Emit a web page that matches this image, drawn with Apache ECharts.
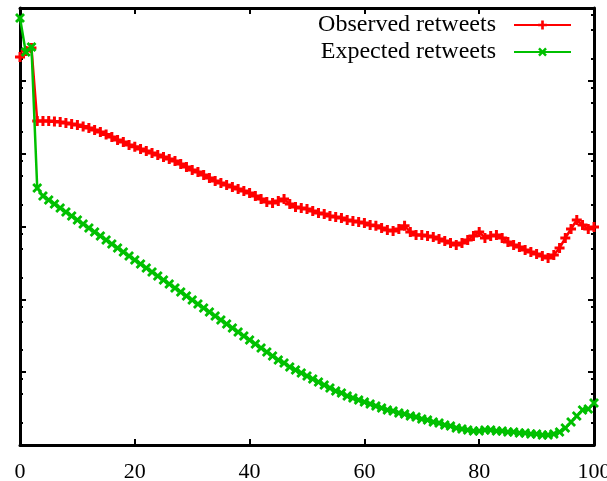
<!DOCTYPE html>
<html>
<head>
<meta charset="utf-8">
<script src="https://cdn.jsdelivr.net/npm/echarts@6/dist/echarts.min.js"></script>
<style>
  html, body { margin: 0; padding: 0; background: #ffffff; }
  #chart { width: 607px; height: 481px; }
</style>
</head>
<body>
<div id="chart"></div>
<script>
// Position in the timeline (0..100)
const positions = [];
for (let i = 0; i <= 100; i++) positions.push(i);

// Observed retweets at each position
const observed = [
  212000, 257000, 282000, 28100, 28100, 28100, 27700, 27200, 26400, 25600,
  24800, 23600, 22500, 21200, 19900, 18300, 16900, 15400, 14500, 13200,
  12400, 11600, 10900, 10200, 9590, 9000, 8450, 7930, 7220, 6560,
  5970, 5600, 5100, 4640, 4220, 3960, 3720, 3490, 3270, 3070,
  2880, 2620, 2390, 2170, 2100, 2240, 2390, 2040, 1850, 1790,
  1740, 1630, 1530, 1480, 1390, 1350, 1310, 1230, 1190, 1150,
  1120, 1050, 1020, 954, 896, 868, 925, 1020, 841, 764,
  764, 741, 718, 674, 633, 594, 557, 594, 653, 741,
  841, 695, 741, 764, 695, 613, 557, 523, 476, 447,
  420, 394, 370, 406, 507, 695, 925, 1230, 1050, 925,
  984
];

// Expected retweets at each position
const expected = [
  730000, 249000, 292000, 3380, 2620, 2310, 2040, 1790, 1580, 1390,
  1230, 1080, 954, 841, 741, 653, 575, 507, 447, 394,
  347, 306, 269, 237, 209, 184, 162, 143, 126, 111,
  98, 86, 76, 67, 59, 52, 46, 40.4, 35.6, 31.4,
  27.7, 24.4, 21.5, 18.9, 16.7, 14.7, 13.4, 11.8, 10.7, 9.74,
  8.86, 8.06, 7.33, 6.67, 6.06, 5.51, 5.18, 4.71, 4.42, 4.15,
  3.89, 3.66, 3.43, 3.22, 3.02, 2.93, 2.75, 2.66, 2.50, 2.42,
  2.27, 2.20, 2.07, 2.00, 1.88, 1.82, 1.71, 1.66, 1.61, 1.56,
  1.56, 1.61, 1.61, 1.56, 1.56, 1.51, 1.51, 1.46, 1.46, 1.42,
  1.42, 1.37, 1.37, 1.42, 1.51, 1.71, 2.07, 2.50, 3.02, 3.12,
  3.77
];

const seriesNames = ['Observed retweets', 'Expected retweets'];
const xTicks = [0, 20, 40, 60, 80, 100];

// Log axis: decades and 2/5/8 minor marks
const yMin = 1, yMax = 1e6;
const majorY = [];
const minorY = [];
for (let d = yMin; d <= yMax; d *= 10) {
  majorY.push(d);
  if (d < yMax) [2, 5, 8].forEach(m => minorY.push(m * d));
}

const serif = 'Liberation Serif';
const plusPath = 'path://M-1.5,-5 L1.5,-5 L1.5,-1.5 L5,-1.5 L5,1.5 L1.5,1.5 L1.5,5 L-1.5,5 L-1.5,1.5 L-5,1.5 L-5,-1.5 L-1.5,-1.5 Z';
const crossPath = 'path://M-5,-3 L-3,-5 L0,-2 L3,-5 L5,-3 L2,0 L5,3 L3,5 L0,2 L-3,5 L-5,3 L-2,0 Z';

function pairs(vals) {
  return positions.map((p, i) => [p, vals[i]]);
}

function yAxisDef(position, ticks, len, showLine) {
  return {
    type: 'log', logBase: 10, min: yMin, max: yMax, position: position,
    axisLine: { show: showLine, lineStyle: { color: '#000', width: 3 } },
    axisTick: { show: true, inside: true, length: len, customValues: ticks,
                lineStyle: { color: '#000', width: 2 } },
    axisLabel: { show: false },
    splitLine: { show: false },
    minorTick: { show: false }
  };
}

const chart = echarts.init(document.getElementById('chart'), null, { renderer: 'canvas' });
chart.setOption({
  animation: false,
  backgroundColor: '#ffffff',
  grid: { left: 20, right: 13, top: 8, bottom: 36, containLabel: false, outerBoundsMode: 'none' },
  legend: {
    orient: 'vertical', right: 30, top: 8, align: 'right',
    itemWidth: 57, itemHeight: 11, itemGap: 3,
    textStyle: { fontFamily: serif, fontSize: 24, color: '#000', padding: [0, 13, 0, 0] },
    data: seriesNames
  },
  xAxis: [
    {
      type: 'value', min: 0, max: 100, interval: 20, position: 'bottom',
      axisLine: { show: true, onZero: false, lineStyle: { color: '#000', width: 3 } },
      axisTick: { show: true, inside: true, length: 6, customValues: xTicks,
                  lineStyle: { color: '#000', width: 2 } },
      axisLabel: { show: true, customValues: xTicks, margin: 16,
                   fontFamily: serif, fontSize: 22, color: '#000' },
      splitLine: { show: false }
    },
    {
      type: 'value', min: 0, max: 100, interval: 20, position: 'top',
      axisLine: { show: true, onZero: false, lineStyle: { color: '#000', width: 3 } },
      axisTick: { show: true, inside: true, length: 6, customValues: xTicks,
                  lineStyle: { color: '#000', width: 2 } },
      axisLabel: { show: false },
      splitLine: { show: false }
    }
  ],
  yAxis: [
    yAxisDef('left', majorY, 6, true),
    yAxisDef('left', minorY, 3, false),
    yAxisDef('right', majorY, 6, true),
    yAxisDef('right', minorY, 3, false)
  ],
  series: [
    {
      name: seriesNames[0], type: 'line', xAxisIndex: 0, yAxisIndex: 0,
      data: pairs(observed),
      symbol: plusPath, symbolSize: 10, showSymbol: true, showAllSymbol: true,
      lineStyle: { color: '#ff0000', width: 2.5 },
      itemStyle: { color: '#ff0000' },
      z: 3
    },
    {
      name: seriesNames[1], type: 'line', xAxisIndex: 0, yAxisIndex: 0,
      data: pairs(expected),
      symbol: crossPath, symbolSize: 10, showSymbol: true, showAllSymbol: true,
      lineStyle: { color: '#00c000', width: 2.5 },
      itemStyle: { color: '#00c000' },
      z: 4
    }
  ]
});
</script>
</body>
</html>
